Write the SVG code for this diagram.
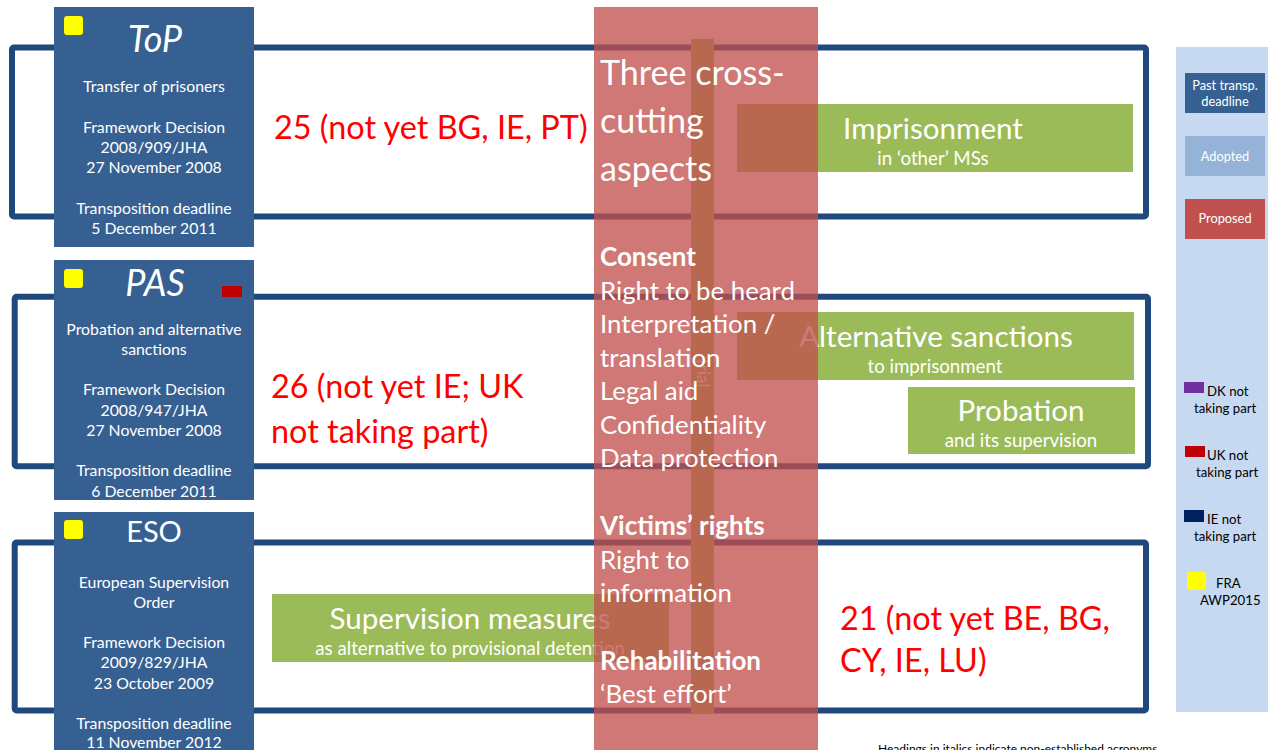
<svg xmlns="http://www.w3.org/2000/svg" width="1268" height="750" viewBox="0 0 1268 750">
<style>
text{font-family:Lato,"Open Sans","Liberation Sans",sans-serif}
.frame{fill:none;stroke:#1F497D;stroke-width:6}
.box{fill:#376092}
.bt{fill:#fff;font-size:15.8px;text-anchor:middle}
.title{fill:#fff;font-size:36px;text-anchor:middle;font-style:italic}
.yel{fill:#FFFF00}
.green{fill:#9BBB59}
.gt{fill:#fff;font-size:29.6px;text-anchor:middle}
.gs{fill:#fff;font-size:18.7px;text-anchor:middle}
.red{fill:#FF0000;font-size:32.4px}
.mid{fill:#fff;font-size:25.8px}
.midb{fill:#fff;font-size:26px;font-weight:bold}
.big{fill:#fff;font-size:34.1px}
.lg{fill:#fff;font-size:12.8px;text-anchor:middle}
.lk{fill:#000;font-size:13.2px}
</style>
<rect width="1268" height="750" fill="#fff"/>
<g id="connectors">
<rect class="frame" x="12" y="47.5" width="1134" height="169" rx="2"/>
<rect class="frame" x="14.7" y="296.7" width="1133.3" height="169.5" rx="2"/>
<rect class="frame" x="14.7" y="542.5" width="1131.3" height="168" rx="2"/>
</g>
<g id="legend">
<rect x="1176" y="47" width="92" height="665" fill="#C6D9F1"/>
<rect x="1185" y="73" width="80" height="40" fill="#376092"/>
<text class="lg" x="1225" y="90">Past transp.</text>
<text class="lg" x="1225" y="106">deadline</text>
<rect x="1185" y="136" width="80" height="40" fill="#95B3D7"/>
<text class="lg" x="1225" y="161">Adopted</text>
<rect x="1185" y="199" width="80" height="40" fill="#C0504D"/>
<text class="lg" x="1225" y="223">Proposed</text>
<rect x="1184" y="382" width="20" height="11" fill="#7030A0"/>
<text class="lk" x="1207" y="396">DK not</text>
<text class="lk" x="1194" y="413">taking part</text>
<rect x="1185" y="446" width="20" height="11" fill="#C00000"/>
<text class="lk" x="1207" y="460">UK not</text>
<text class="lk" x="1196" y="477">taking part</text>
<rect x="1184" y="510" width="20" height="12" fill="#002060"/>
<text class="lk" x="1207" y="524">IE not</text>
<text class="lk" x="1194" y="541">taking part</text>
<rect x="1187" y="572" width="19" height="18" rx="3" fill="#FFFF00"/>
<text class="lk" x="1216" y="588">FRA</text>
<text class="lk" x="1200" y="605">AWP2015</text>
</g>
<g id="top">
<rect class="box" x="54" y="7" width="200" height="240"/>
<rect class="yel" x="64" y="16" width="19" height="19" rx="3"/>
<text class="title" x="155" y="52">ToP</text>
<text class="bt" x="154" y="92">Transfer of prisoners</text>
<text class="bt" x="154" y="133">Framework Decision</text>
<text class="bt" x="154" y="153">2008/909/JHA</text>
<text class="bt" x="154" y="173">27 November 2008</text>
<text class="bt" x="154" y="214">Transposition deadline</text>
<text class="bt" x="154" y="234">5 December 2011</text>
</g>
<g id="pas">
<rect class="box" x="54" y="260" width="200" height="240"/>
<rect class="yel" x="64" y="269" width="19" height="19" rx="3"/>
<rect x="222" y="286" width="20" height="11" fill="#C00000"/>
<text class="title" x="155" y="296">PAS</text>
<text class="bt" x="154" y="335">Probation and alternative</text>
<text class="bt" x="154" y="355">sanctions</text>
<text class="bt" x="154" y="395">Framework Decision</text>
<text class="bt" x="154" y="416">2008/947/JHA</text>
<text class="bt" x="154" y="436">27 November 2008</text>
<text class="bt" x="154" y="476">Transposition deadline</text>
<text class="bt" x="154" y="497">6 December 2011</text>
</g>
<g id="eso">
<rect class="box" x="54" y="512" width="200" height="240"/>
<rect class="yel" x="64" y="520" width="19" height="19" rx="3"/>
<text fill="#fff" font-size="29" text-anchor="middle" x="154" y="542">ESO</text>
<text class="bt" x="154" y="588">European Supervision</text>
<text class="bt" x="154" y="608">Order</text>
<text class="bt" x="154" y="648">Framework Decision</text>
<text class="bt" x="154" y="668">2009/829/JHA</text>
<text class="bt" x="154" y="689">23 October 2009</text>
<text class="bt" x="154" y="729">Transposition deadline</text>
<text class="bt" x="154" y="748">11 November 2012</text>
</g>
<g id="counts">
<text class="red" x="274" y="139">25 (not yet BG, IE, PT)</text>
<text class="red" x="271" y="398">26 (not yet IE; UK</text>
<text class="red" x="271" y="443">not taking part)</text>
<text class="red" x="840" y="630">21 (not yet BE, BG,</text>
<text class="red" x="840" y="672">CY, IE, LU)</text>
</g>
<g id="imprisonment">
<rect class="green" x="737" y="104" width="396" height="68"/>
<text class="gt" x="933" y="139">Imprisonment</text>
<text class="gs" x="933" y="165">in ‘other’ MSs</text>
</g>
<g id="alternative">
<rect class="green" x="737" y="312" width="397" height="68"/>
<text class="gt" x="936" y="347">Alternative sanctions</text>
<text class="gs" x="935" y="373">to imprisonment</text>
</g>
<g id="probation">
<rect class="green" x="908" y="387" width="227" height="67"/>
<text class="gt" x="1021" y="421">Probation</text>
<text class="gs" x="1021" y="447">and its supervision</text>
</g>
<g id="supervision">
<rect class="green" x="272" y="594" width="397" height="68"/>
<text class="gt" x="470" y="629">Supervision measures</text>
<text class="gs" x="470" y="655">as alternative to provisional detention</text>
</g>
<g id="trial">
<rect class="green" x="691" y="39" width="23" height="674"/>
<text fill="#fff" font-size="17" text-anchor="middle" transform="translate(697,372) rotate(90)">Trial</text>
</g>
<g id="aspects">
<rect x="594" y="7" width="224" height="743" fill="#C0504D" fill-opacity="0.77"/>
<text class="big" x="600" y="85">Three cross-</text>
<text class="big" x="600" y="133">cutting</text>
<text class="big" x="600" y="181">aspects</text>
<text class="midb" x="600" y="266">Consent</text>
<text class="mid" x="600" y="300">Right to be heard</text>
<text class="mid" x="600" y="333">Interpretation /</text>
<text class="mid" x="600" y="367">translation</text>
<text class="mid" x="600" y="400">Legal aid</text>
<text class="mid" x="600" y="434">Confidentiality</text>
<text class="mid" x="600" y="467">Data protection</text>
<text class="midb" x="600" y="535">Victims’ rights</text>
<text class="mid" x="600" y="569">Right to</text>
<text class="mid" x="600" y="602">information</text>
<text class="midb" x="600" y="670">Rehabilitation</text>
<text class="mid" x="600" y="703">‘Best effort’</text>
</g>
<text x="878" y="753" font-size="12" fill="#000">Headings in italics indicate non-established acronyms</text>
</svg>
